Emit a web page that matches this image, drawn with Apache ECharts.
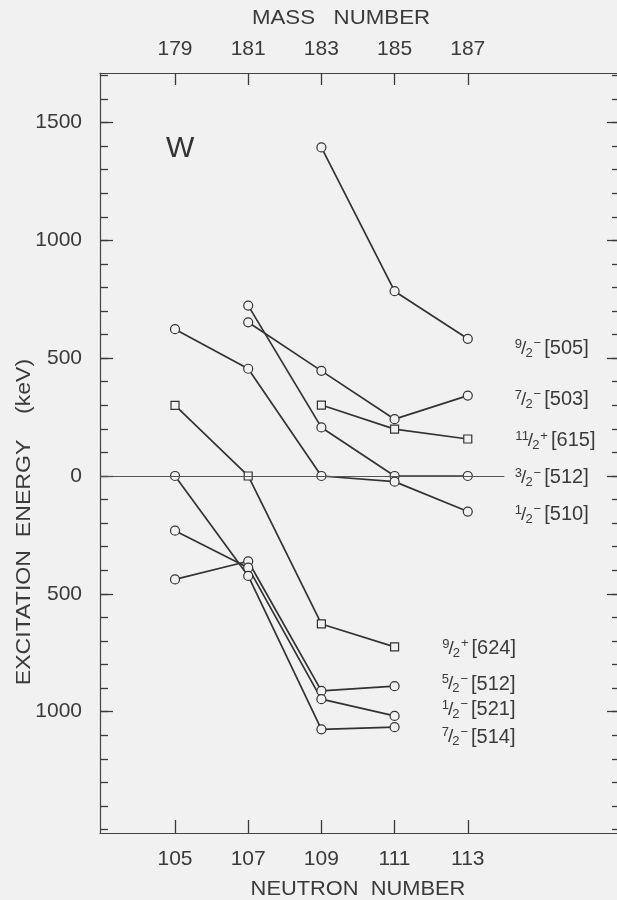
<!DOCTYPE html>
<html>
<head>
<meta charset="utf-8">
<script src="https://cdn.jsdelivr.net/npm/echarts@6/dist/echarts.min.js"></script>
<style>
  html, body { margin: 0; padding: 0; background: #f1f1f1; }
  #chart { width: 617px; height: 900px; }
</style>
</head>
<body>
<div id="chart"></div>
<script>
// Tungsten single-neutron levels versus neutron number (upper: particle states, lower: hole states)
const neutronNumbers = [105, 107, 109, 111, 113];
const massNumbers = [179, 181, 183, 185, 187];
const energyTicks = [-1000, -500, 0, 500, 1000, 1500];

const stateNames = [
  '9/2-[505]', '7/2-[503]', '11/2+[615]', '3/2-[512]', '1/2-[510]',
  '9/2+[624]', '5/2-[512]', '1/2-[521]', '7/2-[514]'
];

// excitation energies in keV at N = 105, 107, 109, 111, 113 (null = not observed)
const e505 = [null, null, 1394, 784, 582];
const e503 = [null, 652, 446, 241, 341];
const e615 = [null, null, 301, 199, 157];
const e512a = [null, 723, 206, 0, 0];
const e510 = [623, 455, 0, -24, -151];
const e624 = [300, 0, -628, -725, null];
const e512b = [-439, -362, -912, -892, null];
const e521 = [-232, -389, -947, -1018, null];
const e514 = [0, -424, -1075, -1066, null];

const levelValues = [e505, e503, e615, e512a, e510, e624, e512b, e521, e514];

// unlabelled 100 keV ticks along both energy axes
const minorTicks = [];
for (let v = -1500; v <= 1700; v += 100) minorTicks.push(v);

const INK = '#333333';
const TEXT = '#3a3a3a';
const BG = '#f1f1f1';
const FONT = 'Liberation Sans, Arial, sans-serif';

// small vertical nudges so the state labels do not collide
const labelNudge = [10, 4, 2, 2, 3, 2, -2, -6, 10];

function richName(name) {
  const m = name.match(/^(\d+)\/(\d+)([+-])(\[\d+\])$/);
  const sign = m[3] === '-' ? '\u2212' : '+';
  return '{n|' + m[1] + '}{s|/}{d|' + m[2] + '}{p|' + sign + '}{b|' + m[4] + '}';
}

const labelRich = {
  n: { fontSize: 13, fontFamily: FONT, color: TEXT, padding: [0, 0, 9, 0] },
  s: { fontSize: 19, fontFamily: FONT, color: TEXT, padding: [0, -1, 0, -1] },
  d: { fontSize: 13, fontFamily: FONT, color: TEXT, padding: [9, 0, 0, 0] },
  p: { fontSize: 13, fontFamily: FONT, color: TEXT, padding: [0, 3, 10, 1] },
  b: { fontSize: 20, fontFamily: FONT, color: TEXT }
};

const series = levelValues.map(function (vals, i) {
  const name = stateNames[i];
  const positive = name.indexOf('+') >= 0;
  const pts = [];
  vals.forEach(function (v, k) {
    if (v !== null) pts.push({ value: [neutronNumbers[k], v] });
  });
  const last = pts[pts.length - 1];
  last.label = {
    show: true,
    position: 'right',
    distance: positive ? 43 : 42,
    offset: [0, labelNudge[i]],
    formatter: richName(name),
    rich: labelRich
  };
  return {
    type: 'line',
    name: name,
    xAxisIndex: 0,
    yAxisIndex: 0,
    data: pts,
    symbol: positive ? 'rect' : 'circle',
    symbolSize: positive ? 8 : 9,
    showAllSymbol: true,
    lineStyle: { color: INK, width: 1.7 },
    itemStyle: { color: BG, borderColor: INK, borderWidth: 1.2 },
    label: { show: false },
    emphasis: { disabled: true },
    z: 3
  };
});

// the zero-energy reference line
series.push({
  type: 'line',
  data: [],
  xAxisIndex: 0,
  yAxisIndex: 0,
  markLine: {
    silent: true,
    symbol: 'none',
    label: { show: false },
    lineStyle: { color: '#555', width: 1, type: 'solid' },
    data: [[{ coord: [102.95, 0] }, { coord: [114, 0] }]]
  },
  z: 2
});

const axisLine = { show: true, onZero: false, lineStyle: { color: '#444', width: 1.2 } };
const tickStyle = { color: '#3a3a3a', width: 1.3 };
const labelText = { fontSize: 21, fontFamily: FONT, color: TEXT };

function energyAxis(position, major, withLabels) {
  const ax = {
    type: 'value',
    position: position,
    min: -1515,
    max: 1710,
    splitLine: { show: false },
    axisLine: major ? { show: false, onZero: false } : axisLine,
    axisTick: {
      show: true,
      inside: true,
      length: major ? 13 : 8,
      customValues: major ? energyTicks : minorTicks,
      lineStyle: tickStyle
    },
    axisLabel: { show: false }
  };
  if (withLabels) {
    ax.axisLabel = Object.assign({
      show: true,
      customValues: energyTicks,
      margin: 18,
      formatter: function (v) { return String(Math.abs(v)); }
    }, labelText);
  }
  return ax;
}

function titleText(text, x, y, rotation, stretch) {
  return {
    type: 'text',
    x: x,
    y: y,
    rotation: rotation,
    scaleX: stretch,
    style: {
      text: text,
      fontSize: 21,
      fontFamily: FONT,
      fill: TEXT,
      align: 'center',
      verticalAlign: 'middle'
    }
  };
}

const option = {
  backgroundColor: BG,
  animation: false,
  grid: { left: 100, top: 73, width: 520, height: 760, outerBoundsMode: 'none', containLabel: false },
  xAxis: [
    {
      type: 'value',
      position: 'bottom',
      min: 102.95,
      max: 117.16,
      splitLine: { show: false },
      axisLine: axisLine,
      axisTick: { show: true, inside: true, length: 13, customValues: neutronNumbers, lineStyle: tickStyle },
      axisLabel: Object.assign({ customValues: neutronNumbers, margin: 16 }, labelText)
    },
    {
      type: 'value',
      position: 'top',
      min: 176.95,
      max: 191.16,
      splitLine: { show: false },
      axisLine: axisLine,
      axisTick: { show: true, inside: true, length: 12, customValues: massNumbers, lineStyle: tickStyle },
      axisLabel: Object.assign({ customValues: massNumbers, margin: 13 }, labelText)
    }
  ],
  yAxis: [
    energyAxis('left', false, false),
    energyAxis('left', true, true),
    energyAxis('right', false, false),
    energyAxis('right', true, false)
  ],
  graphic: [
    {
      type: 'text',
      left: 166,
      top: 134,
      style: { text: 'W', fontSize: 30, fontFamily: FONT, fill: '#333' }
    },
    titleText('MASS   NUMBER', 341, 18, 0, 1.06),
    titleText('NEUTRON  NUMBER', 358, 889, 0, 1.04),
    titleText('EXCITATION  ENERGY    (keV)', 24, 522, Math.PI / 2, 1.1)
  ],
  series: series
};

const chart = echarts.init(document.getElementById('chart'), null, { renderer: 'canvas' });
chart.setOption(option);
</script>
</body>
</html>
